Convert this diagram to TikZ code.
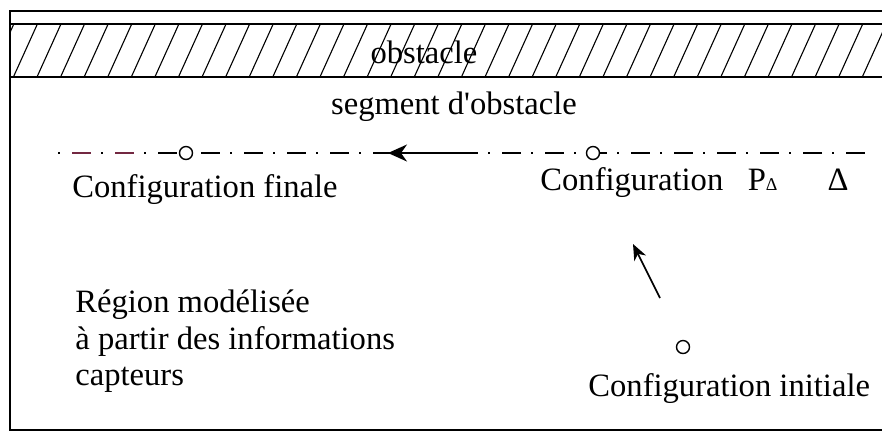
\documentclass[tikz,border=0pt]{standalone}
\usepackage{fontspec}
\setmainfont{Liberation Serif}[Ligatures=TeXOff]
\usetikzlibrary{arrows.meta}
\definecolor{maroonish}{RGB}{115,40,65}
\begin{document}
\begin{tikzpicture}[x=0.5pt,y=-0.5pt,
  lbl/.style={inner sep=0pt, font=\fontsize{16.3}{18}\selectfont},
  frameline/.style={line width=1.3pt},
  hatchline/.style={line width=0.55pt},
  axisline/.style={line width=0.8pt, dash pattern=on 1pt off 6pt on 9.5pt off 5pt},
  conf/.style={circle, draw, fill=white, line width=0.7pt, minimum size=6.5pt, inner sep=0pt},
  movearrow/.style={line width=0.8pt, -{Stealth[length=9.5pt,width=8.5pt,inset=3pt]}},
  smallarrow/.style={line width=0.8pt, -{Stealth[length=8pt,width=6.5pt,inset=2.5pt]}}
]
\useasboundingbox (0,0) rectangle (882,436);
\fill[white] (0,0) rectangle (882,436);
% frame
\draw[frameline] (900,11) -- (10,11) -- (10,430) -- (900,430);
% obstacle band
\begin{scope}
\clip (10,24) rectangle (900,77);
\foreach \k in {-2,...,38} \draw[hatchline] (13.4+\k*23.58,77) -- ++(24,-53);
\end{scope}
\draw[frameline] (10,24) rectangle (900,77);
\node[lbl, anchor=base] (obst) at (424,63) {obstacle};
\node[lbl, anchor=base] (seg) at (454,114) {segment d'obstacle};
% axis Delta
\coordinate (axisL) at (58,153);
\coordinate (axisR) at (866,153);
\draw[axisline] (axisL) -- (axisR);
\coordinate (m1a) at (72,153); \coordinate (m1b) at (91,153);
\coordinate (m2a) at (115,153); \coordinate (m2b) at (134,153);
\draw[maroonish, line width=0.8pt] (m1a) -- (m1b);
\draw[maroonish, line width=0.8pt] (m2a) -- (m2b);
\coordinate (astart) at (475,153);
\coordinate (aend) at (388,153);
\draw[movearrow] (astart) -- (aend);
\node[conf] (cfin) at (186,153) {};
\node[conf] (cpd) at (593,153) {};
\node[conf] (cini) at (683,347) {};
% small arrow
\coordinate (s1) at (660,298);
\coordinate (s2) at (633,244);
\draw[smallarrow] (s1) -- (s2);
% labels
\node[lbl, anchor=base west] (lfin) at (72,197) {Configuration finale};
\node[lbl, anchor=base west] (lpd) at (540,190) {Configuration\hspace{0.75em}P{\fontsize{9}{9}\selectfont Δ}};
\node[lbl, anchor=base] (ldelta) at (838,190) {Δ};
\node[lbl, anchor=base west] (r1) at (75,312) {Région modélisée};
\node[lbl, anchor=base west] (r2) at (75,349) {à partir des informations};
\node[lbl, anchor=base west] (r3) at (75,385) {capteurs};
\node[lbl, anchor=base west] (lini) at (588,396) {Configuration initiale};
\end{tikzpicture}
\end{document}
